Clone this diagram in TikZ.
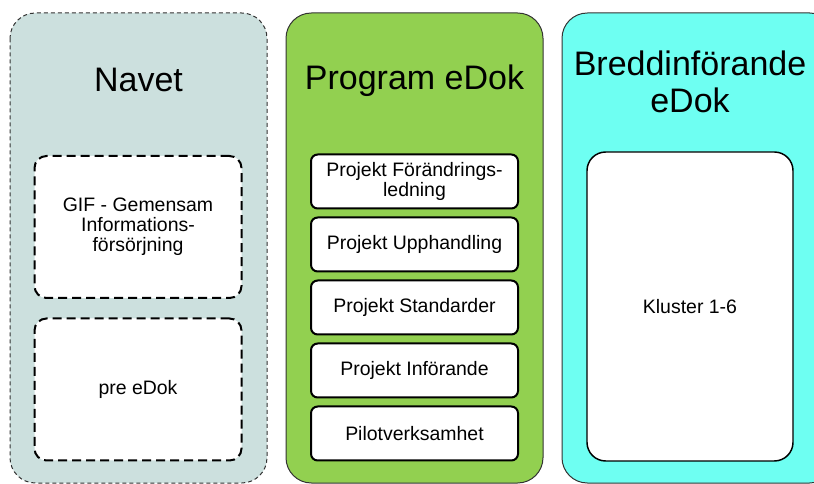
\documentclass[tikz,border=0pt]{standalone}
\usepackage{fontspec}
\setmainfont{Liberation Sans}
\usetikzlibrary{positioning}
\definecolor{navetgray}{RGB}{204,224,222}
\definecolor{edokgreen}{RGB}{146,208,80}
\definecolor{breddcyan}{RGB}{110,255,242}
\definecolor{rimgray}{RGB}{51,51,51}
\tikzset{
    lane/.style={draw=rimgray,line width=0.75pt,rounded corners=19pt},
    lanetitle/.style={align=center,font=\fontsize{25.5}{27.75}\selectfont},
    box/.style={draw,fill=white,align=center,font=\fontsize{14.6}{15}\selectfont,
        minimum width=155.25pt,inner sep=2pt,outer sep=0pt},
    navetbox/.style={box,line width=1.5pt,dash pattern=on 6.75pt off 3.75pt,
        rounded corners=9pt,minimum height=106.5pt},
    projbox/.style={box,line width=1.5pt,rounded corners=5pt,minimum height=40.5pt},
}
\begin{document}
\begin{tikzpicture}[x=0.75pt,y=-0.75pt]
\useasboundingbox (0,0) rectangle (814,484);
% the three lanes
\draw[lane,fill=navetgray,dash pattern=on 3pt off 2.25pt] (10,13) rectangle (267,483);
\draw[lane,fill=edokgreen] (286,13) rectangle (543,483);
\draw[lane,fill=breddcyan] (562,13) rectangle (835,483);
\node[lanetitle] (navet) at (138.5,80) {Navet};
\node[lanetitle] (program) at (414.5,81) {Program eDok};
\node[lanetitle] (bredd) at (690,82) {Breddinförande\\eDok};
% Navet
\node[navetbox] (gif) at (138,227) {GIF - Gemensam\\Informations-\\försörjning};
\node[navetbox] (preedok) at (138,389.5) {pre eDok};
% Program eDok
\node[projbox] (forandring) at (414.5,181.5) {Projekt Förändrings-\\ledning};
\node[projbox,below=6.75pt of forandring] (upphandling) {Projekt Upphandling};
\node[projbox,below=6.75pt of upphandling] (standarder) {Projekt Standarder};
\node[projbox,below=6.75pt of standarder] (inforande) {Projekt Införande};
\node[projbox,below=6.75pt of inforande] (pilot) {Pilotverksamhet};
% Breddinförande
\node[box,line width=1.1pt,rounded corners=14pt,minimum width=154.5pt,
    minimum height=231.75pt] (kluster) at (690,306.5) {Kluster 1-6};
\end{tikzpicture}
\end{document}
